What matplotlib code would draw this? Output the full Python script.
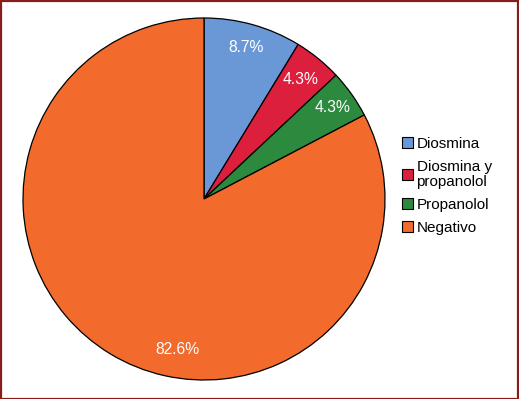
import matplotlib
matplotlib.use("Agg")
import matplotlib.pyplot as plt
from matplotlib.patches import Rectangle
import numpy as np

categories = ["Diosmina", "Diosmina y\npropanolol", "Propanolol", "Negativo"]
values = [8.7, 4.3, 4.3, 82.6]
labels = ["8.7%", "4.3%", "4.3%", "82.6%"]
colors = ["#6a98d6", "#dc1f3d", "#2b8a3e", "#f26b2d"]

plt.rcParams['font.family'] = ['Liberation Sans', 'DejaVu Sans']

W, H = 519, 399
fig = plt.figure(figsize=(W/100, H/100), dpi=100)
cx, cy, R = 204, 199, 181
ax = fig.add_axes([(cx-R)/W, (H-cy-R)/H, 2*R/W, 2*R/H])
wedges, _ = ax.pie(values, colors=colors, startangle=90, counterclock=False,
                   wedgeprops=dict(edgecolor="black", linewidth=0.9))
ax.set_aspect("equal")
ax.set_xlim(-1, 1); ax.set_ylim(-1, 1)
ax.axis("off")

start = 90.0
pos = []
for v in values:
    pos.append(start - v*3.6/2)
    start -= v*3.6
for i, (lab, ang) in enumerate(zip(labels, pos)):
    if i < 3:
        r = [0.87, 0.85, 0.87][i]
        x, y = r*np.cos(np.radians(ang)), r*np.sin(np.radians(ang))
    else:
        x, y = -0.144, -0.83
    ax.text(x, y, lab, color="white", fontsize=11.3, ha="center", va="center")

leg = fig.legend(wedges, categories, loc="upper left",
                 bbox_to_anchor=(402/W, 1-137/H), frameon=False,
                 fontsize=11, handlelength=0.75, handleheight=0.75,
                 handletextpad=0.2, labelspacing=0.58, borderpad=0,
                 borderaxespad=0)
for t in leg.get_texts():
    t.set_linespacing(1.1)
for h in leg.legend_handles:
    h.set_edgecolor("black"); h.set_linewidth(0.8)

fig.patches.append(Rectangle((0.5/W, 0.5/H), 1-1.5/W, 1-1.5/H, transform=fig.transFigure,
                             fill=False, edgecolor="#8b1a1a", linewidth=1.6))
fig.savefig("out.png", dpi=100)
